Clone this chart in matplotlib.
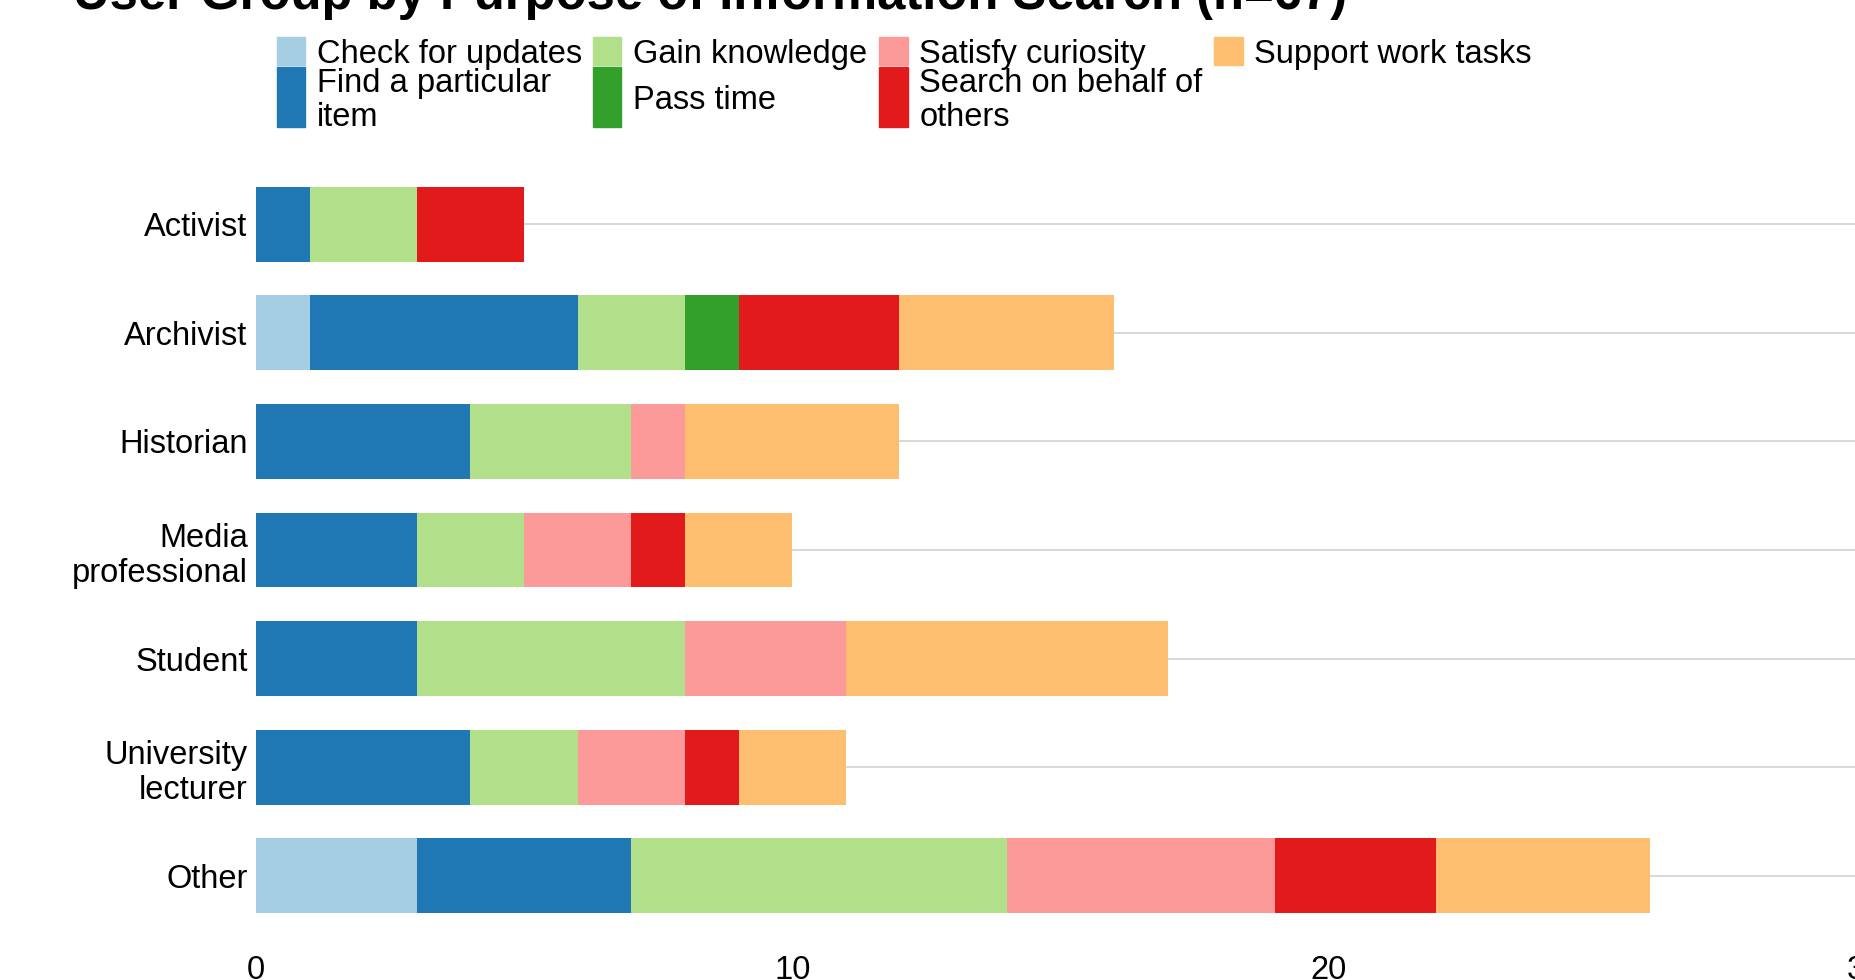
import matplotlib
matplotlib.use("Agg")
import matplotlib.pyplot as plt
from matplotlib.patches import Rectangle

# Data
groups = ["Activist", "Archivist", "Historian", "Media\nprofessional",
          "Student", "University\nlecturer", "Other"]
purposes = ["Check for updates", "Find a particular\nitem", "Gain knowledge",
            "Pass time", "Satisfy curiosity", "Search on behalf of\nothers",
            "Support work tasks"]
check_updates = [0, 1, 0, 0, 0, 0, 3]
find_item = [1, 5, 4, 3, 3, 4, 4]
gain_knowledge = [2, 2, 3, 2, 5, 2, 7]
pass_time = [0, 1, 0, 0, 0, 0, 0]
satisfy_curiosity = [0, 0, 1, 2, 3, 2, 5]
search_behalf = [2, 3, 0, 1, 0, 1, 3]
support_work = [0, 4, 4, 2, 6, 2, 4]
series = [check_updates, find_item, gain_knowledge, pass_time,
          satisfy_curiosity, search_behalf, support_work]
colors = ["#a6cee3", "#1f78b4", "#b2df8a", "#33a02c",
          "#fb9a99", "#e31a1c", "#fdbf6f"]
x_ticks = [0, 10, 20, 30]

plt.rcParams["font.family"] = ["Liberation Sans", "DejaVu Sans"]
FS = 23.5
W, H = 1856, 980

fig = plt.figure(figsize=(W / 100, H / 100), dpi=100)
# axes runs a little past the right edge, like the cropped original
ax = fig.add_axes([256 / W, 50 / H, 1608.6 / W, 760 / H])

ypos = list(range(len(groups)))
left = [0] * len(groups)
for vals, col in zip(series, colors):
    ax.barh(ypos, vals, left=left, height=0.69, color=col, zorder=3)
    left = [a + b for a, b in zip(left, vals)]

ax.set_xlim(0, 30)
ax.set_ylim(6.5, -0.5)
ax.set_yticks(ypos)
ax.set_yticklabels(groups, fontsize=FS, linespacing=1.2)
ax.set_xticks(x_ticks)
ax.set_xticklabels([str(t) for t in x_ticks], fontsize=FS)
ax.tick_params(axis="y", length=0, pad=6)
ax.tick_params(axis="x", length=0, pad=18)
ax.grid(axis="y", color="#d6d6d6", linewidth=1.3, zorder=0)
ax.grid(axis="x", visible=False)
for s in ax.spines.values():
    s.set_visible(False)

# title (clipped at the top in the original)
fig.text(73 / W, 1 - 9 / H, "User Group by Purpose of Information Search (n=67)",
         fontsize=36.5, fontweight="bold", va="baseline", ha="left")

# legend drawn by hand: 4 columns, 2 rows, swatches as tall as the text
col_x = [277, 593, 879.5, 1214.5]
rows = [(36.7, 65.1), (67.5, 126.7)]
for i, (lab, col) in enumerate(zip(purposes, colors)):
    c, r = divmod(i, 2)
    y0, y1 = rows[r]
    fig.patches.append(Rectangle((col_x[c] / W, 1 - y1 / H), 28.4 / W, (y1 - y0) / H,
                                 transform=fig.transFigure, color=col))
    fig.text((col_x[c] + 40) / W, 1 - ((y0 + y1) / 2 + 3.5) / H, lab, fontsize=FS,
             va="center", ha="left", linespacing=1.1)

fig.savefig("out.png", dpi=100)
